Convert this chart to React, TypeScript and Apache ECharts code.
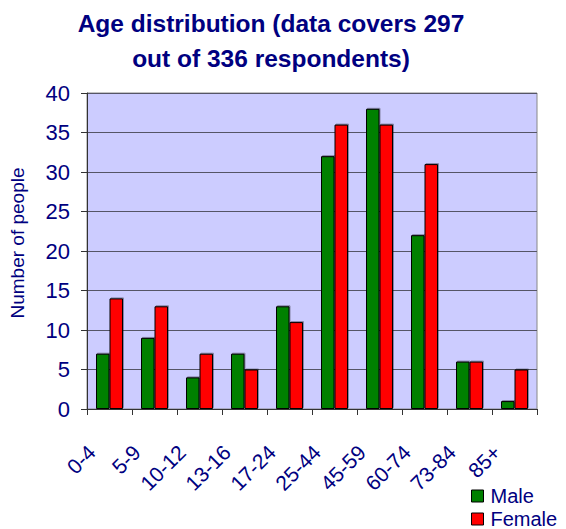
import React, { useEffect, useRef } from "react";
import * as echarts from "echarts";

const titleText = "Age distribution (data covers 297\nout of 336 respondents)";
const categories = ["0-4", "5-9", "10-12", "13-16", "17-24", "25-44", "45-59", "60-74", "73-84", "85+"];
const maleValues = [7, 9, 4, 7, 13, 32, 38, 22, 6, 1];
const femaleValues = [14, 13, 7, 5, 11, 36, 36, 31, 6, 5];
const yTicks = { min: 0, max: 40, interval: 5 };

const NAVY = "#000080";
const FONT = "'Liberation Sans', Arial, sans-serif";

export default function App() {
  const ref = useRef<HTMLDivElement>(null);
  useEffect(() => {
    if (!ref.current) return;
    const chart = echarts.init(ref.current, undefined, { renderer: "svg" });
    chart.setOption({
      animation: false,
      backgroundColor: "#ffffff",
      graphic: [
        {
          type: "text",
          x: 271,
          y: 6,
          style: {
            text: titleText,
            fill: NAVY,
            font: `bold 24.5px ${FONT}`,
            lineHeight: 35,
            align: "center",
            verticalAlign: "top",
          },
        },
      ],
      legend: {
        orient: "vertical",
        left: 466,
        top: 481,
        height: 80,
        itemWidth: 12,
        itemHeight: 12,
        itemGap: 3,
        icon: "rect",
        itemStyle: { borderColor: "#000000", borderWidth: 1 },
        textStyle: { color: NAVY, fontSize: 20, fontFamily: FONT, padding: [0, 0, 0, 2] },
        data: ["Male", "Female"],
      },
      grid: { left: 87, right: 29, top: 93, bottom: 120, show: true, backgroundColor: "#ccccff", borderColor: "#888888", borderWidth: 1 },
      xAxis: {
        type: "category",
        data: categories,
        axisLine: { lineStyle: { color: "#333333", width: 1 } },
        axisTick: { show: true, length: 6, inside: false, lineStyle: { color: "#333333" } },
        axisLabel: { rotate: 45, color: NAVY, fontSize: 21, fontFamily: FONT, margin: 22, padding: [0, 25, 0, 0] },
      },
      yAxis: {
        type: "value",
        min: yTicks.min,
        max: yTicks.max,
        interval: yTicks.interval,
        name: "Number of people",
        nameLocation: "middle",
        nameGap: 60,
        nameTextStyle: { color: NAVY, fontSize: 19, fontFamily: FONT, padding: [0, 0, 0, 16] },
        axisLine: { show: true, lineStyle: { color: "#333333", width: 1 } },
        axisTick: { show: true, length: 6, lineStyle: { color: "#333333" } },
        axisLabel: { color: NAVY, fontSize: 22, fontFamily: FONT, margin: 17 },
        splitLine: { lineStyle: { color: "#555566", width: 1 } },
      },
      series: [
        {
          name: "Male",
          type: "bar",
          data: maleValues,
          barWidth: "30%",
          barGap: "0%",
          itemStyle: { color: "#008000", borderColor: "#000000", borderWidth: 1, shadowColor: "rgba(0,0,0,0.35)", shadowOffsetX: 1, shadowOffsetY: -1, shadowBlur: 1 },
        },
        {
          name: "Female",
          type: "bar",
          data: femaleValues,
          barWidth: "30%",
          barGap: "0%",
          itemStyle: { color: "#ff0000", borderColor: "#000000", borderWidth: 1, shadowColor: "rgba(0,0,0,0.35)", shadowOffsetX: 1, shadowOffsetY: -1, shadowBlur: 1 },
        },
      ],
    });
    return () => chart.dispose();
  }, []);
  return <div ref={ref} style={{ position: "absolute", left: 0, top: 0, width: 566, height: 529 }} />;
}
